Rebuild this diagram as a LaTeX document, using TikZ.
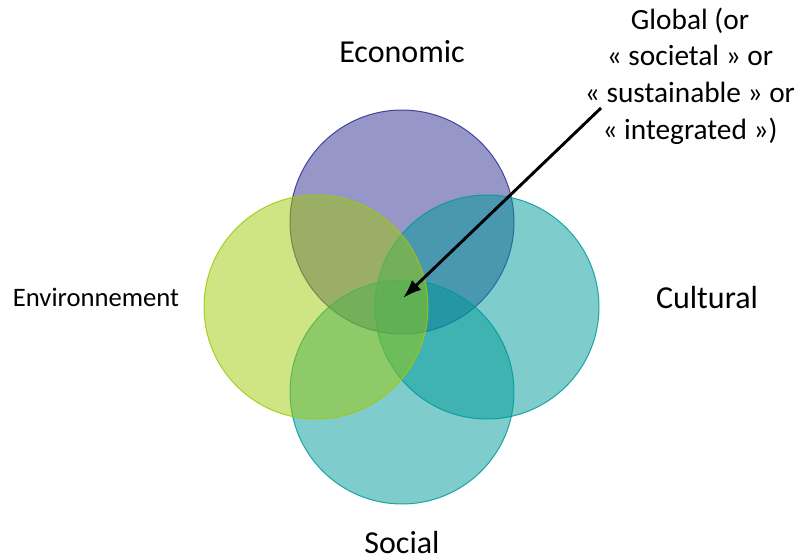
\documentclass[tikz,border=0pt]{standalone}
\usepackage{fontspec}
\setmainfont{Carlito}
\usetikzlibrary{arrows.meta}

\definecolor{econcol}{RGB}{46,45,145}
\definecolor{envcol}{RGB}{159,201,5}
\definecolor{cultcol}{RGB}{0,153,153}

\tikzset{
  sphere/.style={line width=0.75pt, fill opacity=0.5, draw opacity=0.85},
  label/.style={font=\fontsize{24}{28}\selectfont, align=center, inner sep=0pt},
  pointer/.style={line width=2.2pt, -{Latex[length=14pt,width=10pt]}}
}

\begin{document}
\begin{tikzpicture}[x=0.75pt, y=-0.75pt]

\useasboundingbox (0,0) rectangle (810,560);

% Circle centres and radius
\coordinate (E) at (402,222);
\coordinate (C) at (487,307);
\coordinate (S) at (402,392);
\coordinate (V) at (316,307);
\def\r{84pt}

% Circles
\draw[sphere, draw=econcol, fill=econcol] (E) circle (\r);
\draw[sphere, draw=cultcol, fill=cultcol] (C) circle (\r);
\draw[sphere, draw=cultcol, fill=cultcol] (S) circle (\r);
\draw[sphere, draw=envcol, fill=envcol] (V) circle (\r);

% Labels
\node[label] (econ) at (402,52) {Economic};
\node[label] (cult) at (707,298) {Cultural};
\node[label] (soc) at (402,543) {Social};
\node[label, font=\fontsize{20}{24}\selectfont] (envir) at (96,297) {Environnement};
\node[label, font=\fontsize{22}{27.6}\selectfont] (glob) at (690,76) {Global (or\\« societal » or\\« sustainable » or\\« integrated »)};

% Arrow to the common part
\coordinate (tail) at (601,108);
\coordinate (core) at (403,298);
\draw[pointer] (tail) -- (core);

\end{tikzpicture}
\end{document}
